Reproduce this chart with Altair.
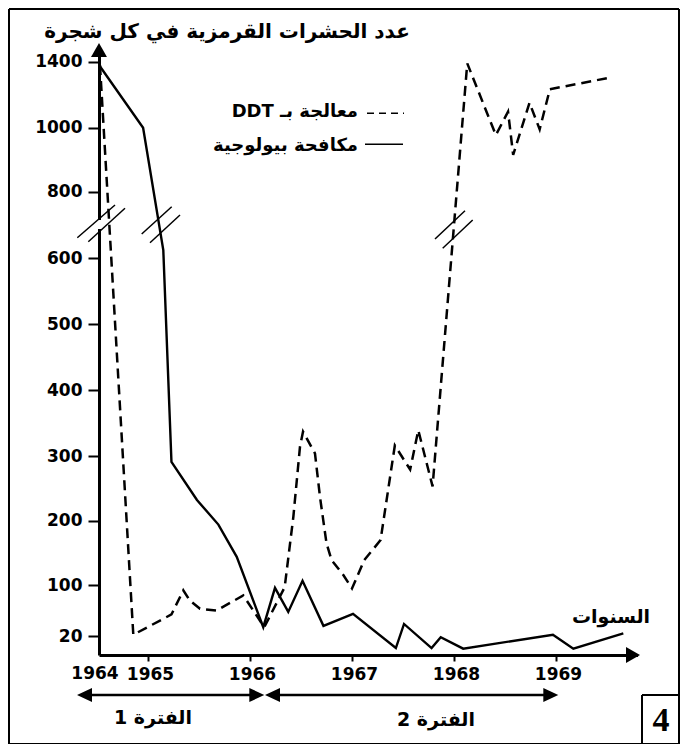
import altair as alt
import pandas as pd

# ---------------- data ----------------
bio_years = [1964.0, 1964.90, 1965.15, 1965.23, 1965.48, 1965.69, 1965.87, 1966.13,
             1966.245, 1966.375, 1966.515, 1966.72, 1967.01, 1967.43, 1967.51,
             1967.78, 1967.87, 1968.09, 1968.97, 1969.17, 1969.66]
bio_values = [1380, 1000, 624, 291, 232, 194, 144, 34,
              96, 58, 107, 36, 55, 1, 39,
              1, 18, 0, 22, 0, 24]

ddt_years = [1964.02, 1964.70, 1965.23, 1965.346, 1965.41, 1965.51, 1965.67, 1965.934,
             1966.14, 1966.34, 1966.425, 1966.49, 1966.52, 1966.637, 1966.686, 1966.75,
             1966.80, 1966.915, 1967.0, 1967.12, 1967.28, 1967.42, 1967.57, 1967.65,
             1967.79, 1968.13, 1968.41, 1968.53, 1968.58, 1968.74, 1968.84, 1968.94, 1969.54]
ddt_values = [1380, 22, 54, 92, 76, 63, 60, 84,
              34, 97, 206, 314, 337, 304, 237, 165,
              139, 116, 95, 139, 170, 316, 279, 339,
              253, 1390, 977, 1097, 915, 1151, 995, 1233, 1305]

y_ticks = [20, 100, 200, 300, 400, 500, 600, 800, 1000, 1400]
x_ticks = [1965, 1966, 1967, 1968, 1969]
first_year_label = "1964"

title_text = "عدد الحشرات القرمزية في كل شجرة"
legend_ddt = "\u202bمعالجة بـ DDT\u202c"
legend_bio = "مكافحة بيولوجية"
x_title = "السنوات"
period_labels = ["الفترة 1", "الفترة 2"]
panel_number = "4"

# ---------------- broken (piecewise) scales ----------------
x_scale = alt.Scale(domain=[1964, 1965, 1969.8], range=[0, 49, 538.6], nice=False, zero=False)
y_scale = alt.Scale(
    domain=[-10, 20, 100, 200, 300, 400, 500, 600, 800, 1000, 1400, 1440],
    range=[610, 591, 540.3, 475.7, 411, 345, 279, 213, 146.7, 82.7, 16.7, 10],
    nice=False, zero=False)

FONT = "DejaVu Sans"
x_axis = alt.Axis(values=x_ticks, title=None, grid=False, domainWidth=3, domainColor="black",
                  tickColor="black", tickWidth=2, tickSize=6, labelFont=FONT, labelFontWeight="bold",
                  labelFontSize=17, labelColor="black", labelPadding=5, labelOffset=2, format="d")
y_axis = alt.Axis(values=y_ticks, title=None, grid=False, domainWidth=3, domainColor="black",
                  tickColor="black", tickWidth=2, tickSize=11, labelFont=FONT, labelFontWeight="bold",
                  labelFontSize=17, labelColor="black", labelPadding=6, format="d")

bio_df = pd.DataFrame({"year": bio_years, "value": bio_values})
ddt_df = pd.DataFrame({"year": ddt_years, "value": ddt_values})

bio = alt.Chart(bio_df).mark_line(color="black", strokeWidth=2.4).encode(
    x=alt.X("year:Q", scale=x_scale, axis=x_axis),
    y=alt.Y("value:Q", scale=y_scale, axis=y_axis))
ddt = alt.Chart(ddt_df).mark_line(color="black", strokeWidth=2.5, strokeDash=[10, 6]).encode(
    x=alt.X("year:Q", scale=x_scale, axis=x_axis),
    y=alt.Y("value:Q", scale=y_scale, axis=y_axis))

# ---------------- decorations (pixel positions in the plot frame) ----------------
seg = pd.DataFrame([
    # outer frame
    (-90, -36, 580, -36, "black", 2), (-90, 699, 580, 699, "black", 2),
    (-90, -36, -90, 699, "black", 2), (580, -36, 580, 699, "black", 2),
    # number box
    (543, 650, 543, 699, "black", 2), (543, 650, 580, 650, "black", 2),
    # period arrows shafts
    (-16, 650, 160, 650, "black", 2.5), (172, 650, 454, 650, "black", 2.5),
    # gap in y axis
    (0, 175, 0, 184, "white", 5),
    # break marks
    (-21.7, 192.7, 16, 160, "black", 1.5), (-10.7, 196.7, 26, 163.3, "black", 1.5),
    (42.7, 189, 72.7, 161.7, "black", 1.5), (51, 197.7, 81, 170, "black", 1.5),
    (336, 194, 366, 165.7, "black", 1.5), (343.7, 203.3, 373.7, 175, "black", 1.5),
    # legend solid sample
    (266, 99.3, 304, 99.3, "black", 1.6),
], columns=["x", "y", "x2", "y2", "c", "w"])

segs = alt.Chart(seg).mark_rule(strokeCap="butt").encode(
    x=alt.X("x:Q", scale=None, axis=None), x2="x2:Q",
    y=alt.Y("y:Q", scale=None, axis=None), y2="y2:Q",
    color=alt.Color("c:N", scale=None),
    strokeWidth=alt.StrokeWidth("w:Q", scale=None))

legend_dash = alt.Chart(pd.DataFrame({"a": [0]})).mark_rule(
    color="black", strokeWidth=1.6, strokeDash=[7, 5]).encode(
    x=alt.value(268), x2=alt.value(305), y=alt.value(68.3))

UP = "M0,0L-0.57,1L0.57,1Z"
RIGHT = "M0,0L-1,-0.57L-1,0.57Z"
R2 = "M0,0L-1,-0.47L-1,0.47Z"
L2 = "M0,0L1,-0.47L1,0.47Z"
heads = pd.DataFrame([
    (0, -2, UP, 784), (541, 610, RIGHT, 784),
    (-22, 650, L2, 900), (165.3, 650, R2, 900),
    (166, 650, L2, 900), (459.3, 650, R2, 900),
], columns=["x", "y", "shape", "size"])
arrows = alt.Chart(heads).mark_point(filled=True, color="black", opacity=1, strokeWidth=0).encode(
    x=alt.X("x:Q", scale=None, axis=None), y=alt.Y("y:Q", scale=None, axis=None),
    shape=alt.Shape("shape:N", scale=None), size=alt.Size("size:Q", scale=None))

texts = pd.DataFrame([
    (128, -13, title_text, 20),
    (512, 572, x_title, 19),
    (54, 673, period_labels[0], 19),
    (337, 675, period_labels[1], 19),
    (-4, 629, first_year_label, 17),
], columns=["x", "y", "t", "fs"])
center_text = alt.Chart(texts).mark_text(font=FONT, fontWeight="bold", color="black",
                                          align="center", baseline="middle").encode(
    x=alt.X("x:Q", scale=None, axis=None), y=alt.Y("y:Q", scale=None, axis=None),
    text="t:N", size=alt.Size("fs:Q", scale=None))

leg = pd.DataFrame([(259, 67, legend_ddt), (259, 101, legend_bio)], columns=["x", "y", "t"])
legend_text = alt.Chart(leg).mark_text(font=FONT, fontWeight="bold", color="black", fontSize=18,
                                       align="right", baseline="middle").encode(
    x=alt.X("x:Q", scale=None, axis=None), y=alt.Y("y:Q", scale=None, axis=None), text="t:N")

number = alt.Chart(pd.DataFrame({"t": [panel_number]})).mark_text(
    font="Liberation Serif", fontWeight="bold", fontSize=34, color="black",
    align="center", baseline="middle").encode(
    x=alt.value(562), y=alt.value(676), text="t:N")

chart = alt.layer(bio, ddt, segs, legend_dash, arrows, center_text, legend_text, number).properties(
    width=541, height=610,
    padding={"left": 91, "top": 37, "right": 40, "bottom": 89},
    autosize=alt.AutoSizeParams(type="none"),
    background="white",
).configure_view(stroke=None)

chart.save("out.html", embed_options={"renderer": "svg", "actions": False})
